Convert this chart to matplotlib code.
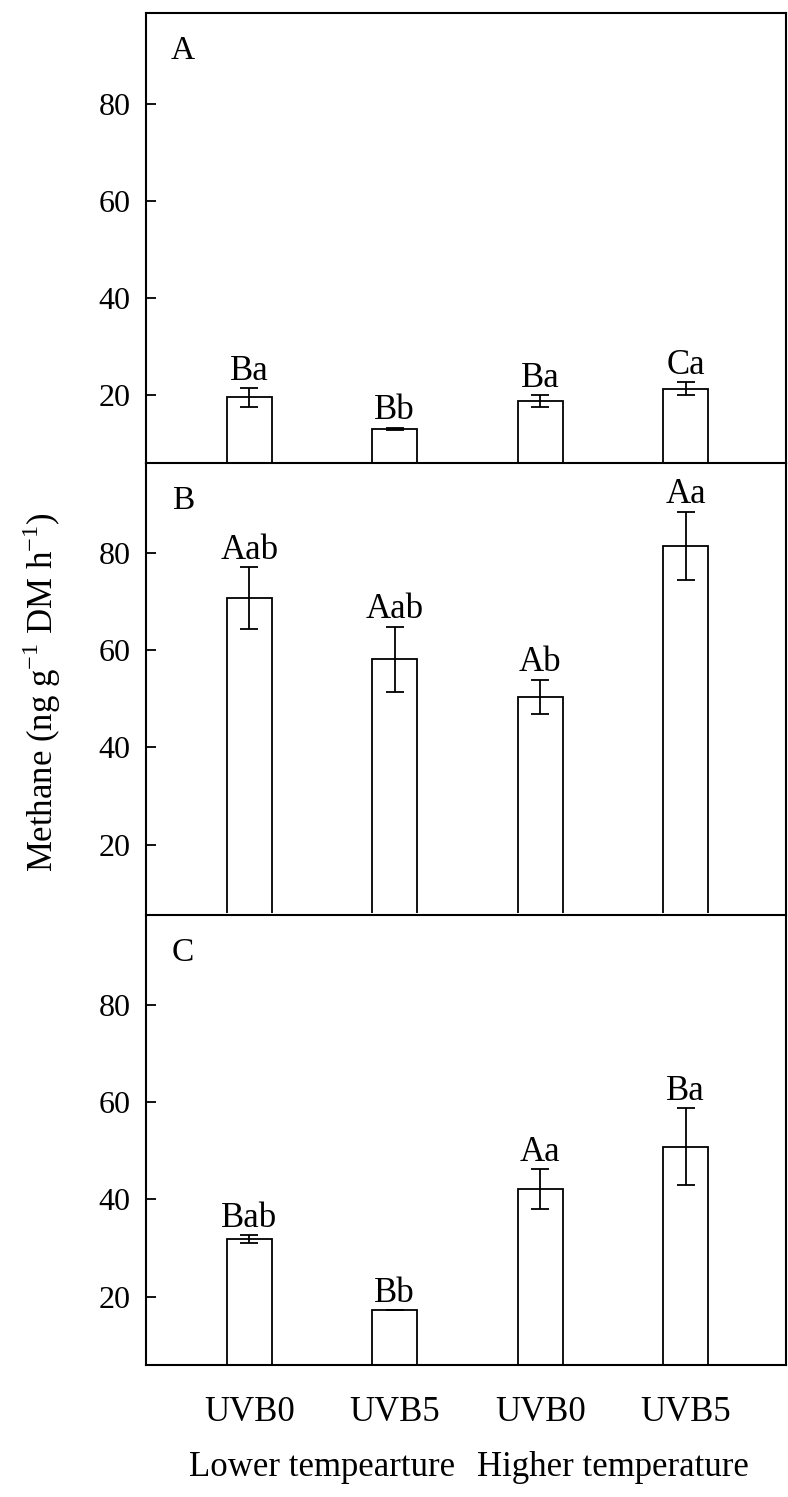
import numpy as np
import matplotlib.pyplot as plt

plt.rcParams['font.family'] = ['Liberation Serif', 'DejaVu Serif']
plt.rcParams['mathtext.fontset'] = 'custom'
plt.rcParams['mathtext.rm'] = 'Liberation Serif'

treatments = ['UVB0', 'UVB5', 'UVB0', 'UVB5']
groups = ['Lower tempearture', 'Higher temperature']
panels = ['A', 'B', 'C']

# mean and error per panel
mean_A = [19.5, 13.0, 18.8, 21.3]
err_A = [1.9, 0.3, 1.2, 1.3]
lab_A = ['Ba', 'Bb', 'Ba', 'Ca']

mean_B = [70.8, 58.2, 50.4, 81.5]
err_B = [6.3, 6.7, 3.6, 7.1]
lab_B = ['Aab', 'Aab', 'Ab', 'Aa']

mean_C = [31.8, 17.2, 42.2, 50.9]
err_C = [0.8, 0.0, 4.1, 7.9]
lab_C = ['Bab', 'Bb', 'Aa', 'Ba']

means = [mean_A, mean_B, mean_C]
errs = [err_A, err_B, err_C]
labs = [lab_A, lab_B, lab_C]

x = np.arange(1, 5)

fig = plt.figure(figsize=(7.88, 14.97), dpi=100)
bottoms = [0.6904, 0.3901, 0.0882]
axes = [fig.add_axes([0.1853, b, 0.8122, 0.3006]) for b in bottoms]

for i, (ax, m, e, l, p) in enumerate(zip(axes, means, errs, labs, panels)):
    ax.bar(x, m, width=0.31, color='white',
           edgecolor='black', linewidth=1.3, zorder=2)
    ax.errorbar(x, m, yerr=e, fmt='none', ecolor='black', elinewidth=1.3,
                capsize=6.5, capthick=1.3, zorder=3)
    for xi, mi, ei, li in zip(x, m, e, l):
        ax.annotate(li, (xi, mi + ei), xytext=(0, 6), textcoords='offset points',
                    ha='center', va='baseline', fontsize=25)
    ax.text(0.058, 0.95, p, transform=ax.transAxes, fontsize=24,
            ha='center', va='top')
    ax.set_xlim(0.29, 4.69)
    ax.set_ylim(5.9, 98.6)
    ax.set_yticks([20, 40, 60, 80])
    ax.tick_params(axis='y', direction='in', length=7, width=1.3,
                   labelsize=23, pad=11)
    ax.tick_params(axis='x', length=0)
    ax.set_xticks([])
    for s in ax.spines.values():
        s.set_linewidth(1.5)
        s.set_zorder(4)
    if i < 2:
        ax.spines['bottom'].set_visible(False)

axes[2].set_xticks(x)
axes[2].set_xticklabels(treatments, fontsize=25)
axes[2].tick_params(axis='x', pad=22)

for i, g in enumerate(groups):
    xc = (x[2 * i] + x[2 * i + 1]) / 2
    axes[2].text(xc, -0.228, g, transform=axes[2].get_xaxis_transform(),
                 ha='center', va='center', fontsize=25)

fig.text(0.053, 0.5377, 'Methane (ng g$^{-1}$ DM h$^{-1}$)', rotation=90,
         ha='center', va='center', fontsize=25)

fig.savefig('out.png', dpi=100)
